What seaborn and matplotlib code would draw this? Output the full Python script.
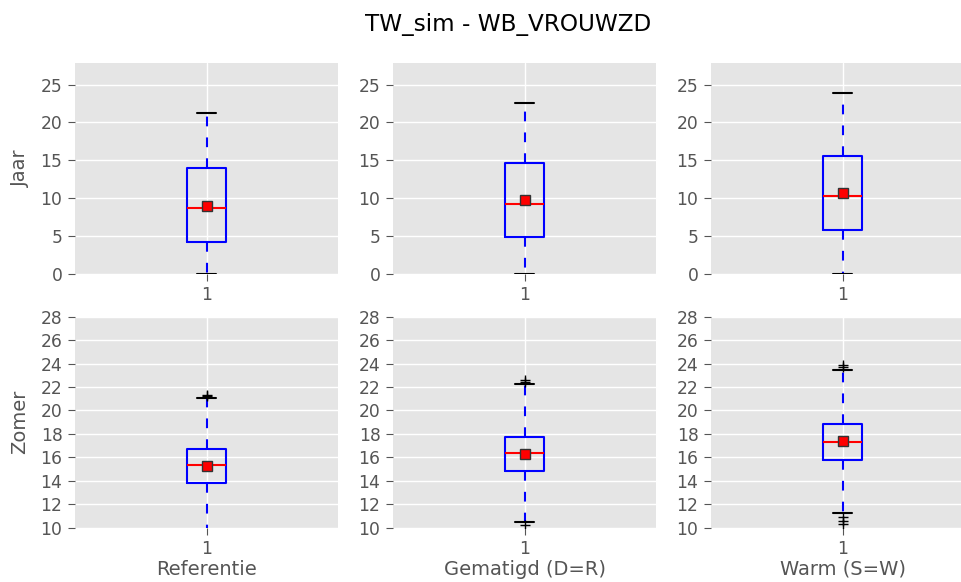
import matplotlib
matplotlib.use("Agg")
import matplotlib.pyplot as plt
import seaborn as sns

# ---- data ----
scenarios = ["Referentie", "Gematigd (D=R)", "Warm (S=W)"]
seasons = ["Jaar", "Zomer"]
tick_label = ["1"]

jaar_q1 = [4.25, 4.85, 5.87]
jaar_med = [8.66, 9.26, 10.24]
jaar_mean = [9.0, 9.75, 10.72]
jaar_q3 = [13.96, 14.6, 15.57]
jaar_lo = [0.0, 0.0, 0.0]
jaar_hi = [21.3, 22.5, 23.9]
jaar_fliers = [[], [], []]

zomer_q1 = [13.82, 14.81, 15.78]
zomer_med = [15.36, 16.38, 17.35]
zomer_mean = [15.3, 16.3, 17.42]
zomer_q3 = [16.75, 17.72, 18.86]
zomer_lo = [8.0, 10.51, 11.28]
zomer_hi = [21.08, 22.25, 23.47]
zomer_fliers = [[21.25, 21.35], [22.47, 22.6, 10.23], [23.75, 23.9, 10.88, 10.6, 10.32]]

jaar_ylim = (0, 27.8)
zomer_ylim = (10, 28)
jaar_yticks = [0, 5, 10, 15, 20, 25]
zomer_yticks = [10, 12, 14, 16, 18, 20, 22, 24, 26, 28]

# ---- style ----
sns.set_style("darkgrid", {
    "axes.facecolor": "#E5E5E5",
    "grid.color": "white",
    "axes.edgecolor": "#E5E5E5",
    "xtick.bottom": True,
    "ytick.left": True,
    "xtick.color": "#555555",
    "ytick.color": "#555555",
    "axes.labelcolor": "#555555",
})
plt.rcParams["font.family"] = ["DejaVu Sans"]
plt.rcParams["lines.scale_dashes"] = False
plt.rcParams["xtick.direction"] = "out"
plt.rcParams["ytick.direction"] = "out"

fig = plt.figure(figsize=(9.61, 5.82), dpi=100)

W, H = 961.0, 582.0
col_left = [75, 393, 711]
ax_w = 263
rows = [(274.0, 210.7), (527.7, 211.0)]

data = [
    (jaar_q1, jaar_med, jaar_mean, jaar_q3, jaar_lo, jaar_hi, jaar_fliers, jaar_ylim, jaar_yticks),
    (zomer_q1, zomer_med, zomer_mean, zomer_q3, zomer_lo, zomer_hi, zomer_fliers, zomer_ylim, zomer_yticks),
]

for r, (q1, med, mean, q3, lo, hi, fl, ylim, yt) in enumerate(data):
    bottom_px, h_px = rows[r]
    for c in range(3):
        ax = fig.add_axes([col_left[c] / W, 1 - bottom_px / H, ax_w / W, h_px / H])
        stats = [{
            "med": med[c], "q1": q1[c], "q3": q3[c],
            "whislo": lo[c], "whishi": hi[c],
            "mean": mean[c], "fliers": fl[c], "label": tick_label[0],
        }]
        ax.bxp(stats, positions=[1], widths=0.15, showmeans=True,
               boxprops=dict(color="blue", linewidth=1.5),
               medianprops=dict(color="red", linewidth=1.5),
               whiskerprops=dict(color="blue", linewidth=1.5, linestyle=(0, (7, 8))),
               capprops=dict(color="black", linewidth=1.5),
               flierprops=dict(marker="+", markeredgecolor="black", markersize=7,
                               markeredgewidth=1.0, linestyle="none"),
               meanprops=dict(marker="s", markerfacecolor="red", markeredgecolor="#333333",
                              markersize=7.5, markeredgewidth=1.0))
        ax.set_xlim(0.5, 1.5)
        ax.set_ylim(*ylim)
        ax.set_yticks(yt)
        ax.tick_params(axis="both", labelsize=12.3, length=5, width=0.8, color="#555555", pad=4)
        ax.grid(True, color="white", linewidth=1.0)
        ax.set_axisbelow(True)
        for s in ax.spines.values():
            s.set_visible(False)
        if c == 0:
            ax.set_ylabel(seasons[r], fontsize=14, labelpad=8)
        if r == 1:
            ax.set_xlabel(scenarios[c], fontsize=14, labelpad=1)

fig.text(508 / W, 1 - 25 / H, "TW_sim - WB_VROUWZD", ha="center", va="center",
         fontsize=16.7, color="black")

fig.savefig("out.png", dpi=100)
